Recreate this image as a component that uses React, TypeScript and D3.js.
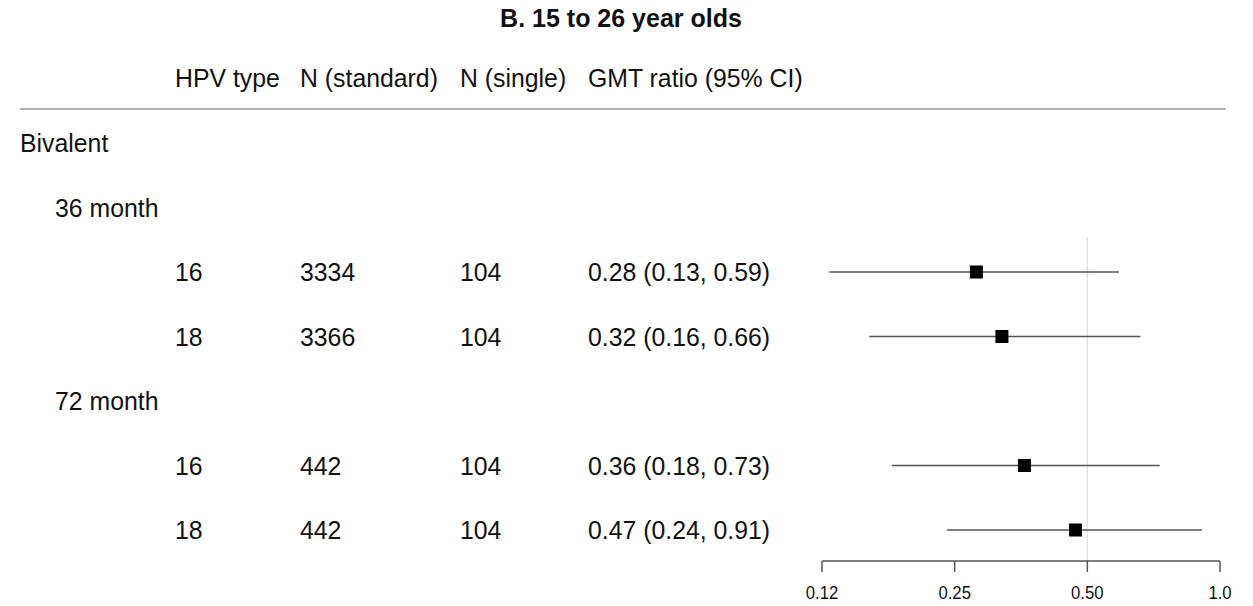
import * as React from "react";
import { scaleLog, scalePoint } from "d3";

const title = "B. 15 to 26 year olds";
const headers = ["HPV type", "N (standard)", "N (single)", "GMT ratio (95% CI)"];
const vaccine = "Bivalent";
const timepoints = ["36 month", "72 month"];
const hpvTypes = ["16", "18", "16", "18"];
const nStandard = [3334, 3366, 442, 442];
const nSingle = [104, 104, 104, 104];
const gmt = [0.28, 0.32, 0.36, 0.47];
const lower = [0.13, 0.16, 0.18, 0.24];
const upper = [0.59, 0.66, 0.73, 0.91];
const tickValues = [0.125, 0.25, 0.5, 1];
const tickLabels = ["0.12", "0.25", "0.50", "1.0"];
const refValue = 0.5;

const width = 1253;
const height = 606;
const font = "'Liberation Sans', Arial, sans-serif";
const colX = [175, 300, 460, 588];

type Row =
  | { kind: "group"; label: string; indent: number }
  | { kind: "study"; i: number };

const rows: Row[] = [
  { kind: "group", label: vaccine, indent: 20 },
  { kind: "group", label: timepoints[0], indent: 55 },
  { kind: "study", i: 0 },
  { kind: "study", i: 1 },
  { kind: "group", label: timepoints[1], indent: 55 },
  { kind: "study", i: 2 },
  { kind: "study", i: 3 },
];

const fmt = (v: number) => v.toFixed(2);

// text in the source is a touch taller than it is wide
const Label = (props: {
  x: number;
  y: number;
  size?: number;
  anchor?: string;
  children: React.ReactNode;
}) => {
  const { x, y, size = 26, anchor = "start", children } = props;
  return (
    <text
      transform={`translate(${x},${y}) scale(0.955,1)`}
      dy="0.35em"
      fontSize={size}
      textAnchor={anchor}
      fill="#111"
    >
      {children}
    </text>
  );
};

export default function App() {
  const x = scaleLog().base(2).domain([0.125, 1]).range([822, 1220]);
  const y = scalePoint<number>()
    .domain(rows.map((_, i) => i))
    .range([143, 530]);
  const axisY = 561;
  const box = 13;

  return (
    <svg
      width={width}
      height={height}
      style={{ position: "absolute", left: 0, top: 0, background: "white" }}
      fontFamily={font}
    >
      <text
        x={621}
        y={18}
        textAnchor="middle"
        fontSize={25}
        fontWeight="bold"
        dy="0.35em"
        fill="#111"
      >
        {title}
      </text>

      {headers.map((h, j) => (
        <Label key={h} x={colX[j]} y={78}>
          {h}
        </Label>
      ))}
      <line x1={20} x2={1226} y1={109} y2={109} stroke="#999" strokeWidth={1.5} />

      <line
        x1={x(refValue)}
        x2={x(refValue)}
        y1={237}
        y2={axisY}
        stroke="#e2e2e2"
        strokeWidth={1.5}
      />

      {rows.map((r, k) => {
        const cy = y(k) as number;
        if (r.kind === "group") {
          return (
            <Label key={k} x={r.indent} y={cy}>
              {r.label}
            </Label>
          );
        }
        const i = r.i;
        const cells = [
          hpvTypes[i],
          String(nStandard[i]),
          String(nSingle[i]),
          `${fmt(gmt[i])} (${fmt(lower[i])}, ${fmt(upper[i])})`,
        ];
        return (
          <g key={k}>
            {cells.map((c, j) => (
              <Label key={j} x={colX[j]} y={cy}>
                {c}
              </Label>
            ))}
            <line
              x1={x(lower[i])}
              x2={x(upper[i])}
              y1={cy}
              y2={cy}
              stroke="#555"
              strokeWidth={1.5}
            />
            <rect
              x={x(gmt[i]) - box / 2}
              y={cy - box / 2}
              width={box}
              height={box}
              fill="#000"
            />
          </g>
        );
      })}

      <g>
        <line
          x1={x(tickValues[0])}
          x2={x(tickValues[tickValues.length - 1])}
          y1={axisY}
          y2={axisY}
          stroke="#555"
          strokeWidth={1.5}
        />
        {tickValues.map((t, j) => (
          <g key={t}>
            <line
              x1={x(t)}
              x2={x(t)}
              y1={axisY}
              y2={axisY + 11}
              stroke="#555"
              strokeWidth={1.5}
            />
            <Label x={x(t)} y={593} size={17.5} anchor="middle">
              {tickLabels[j]}
            </Label>
          </g>
        ))}
      </g>
    </svg>
  );
}
